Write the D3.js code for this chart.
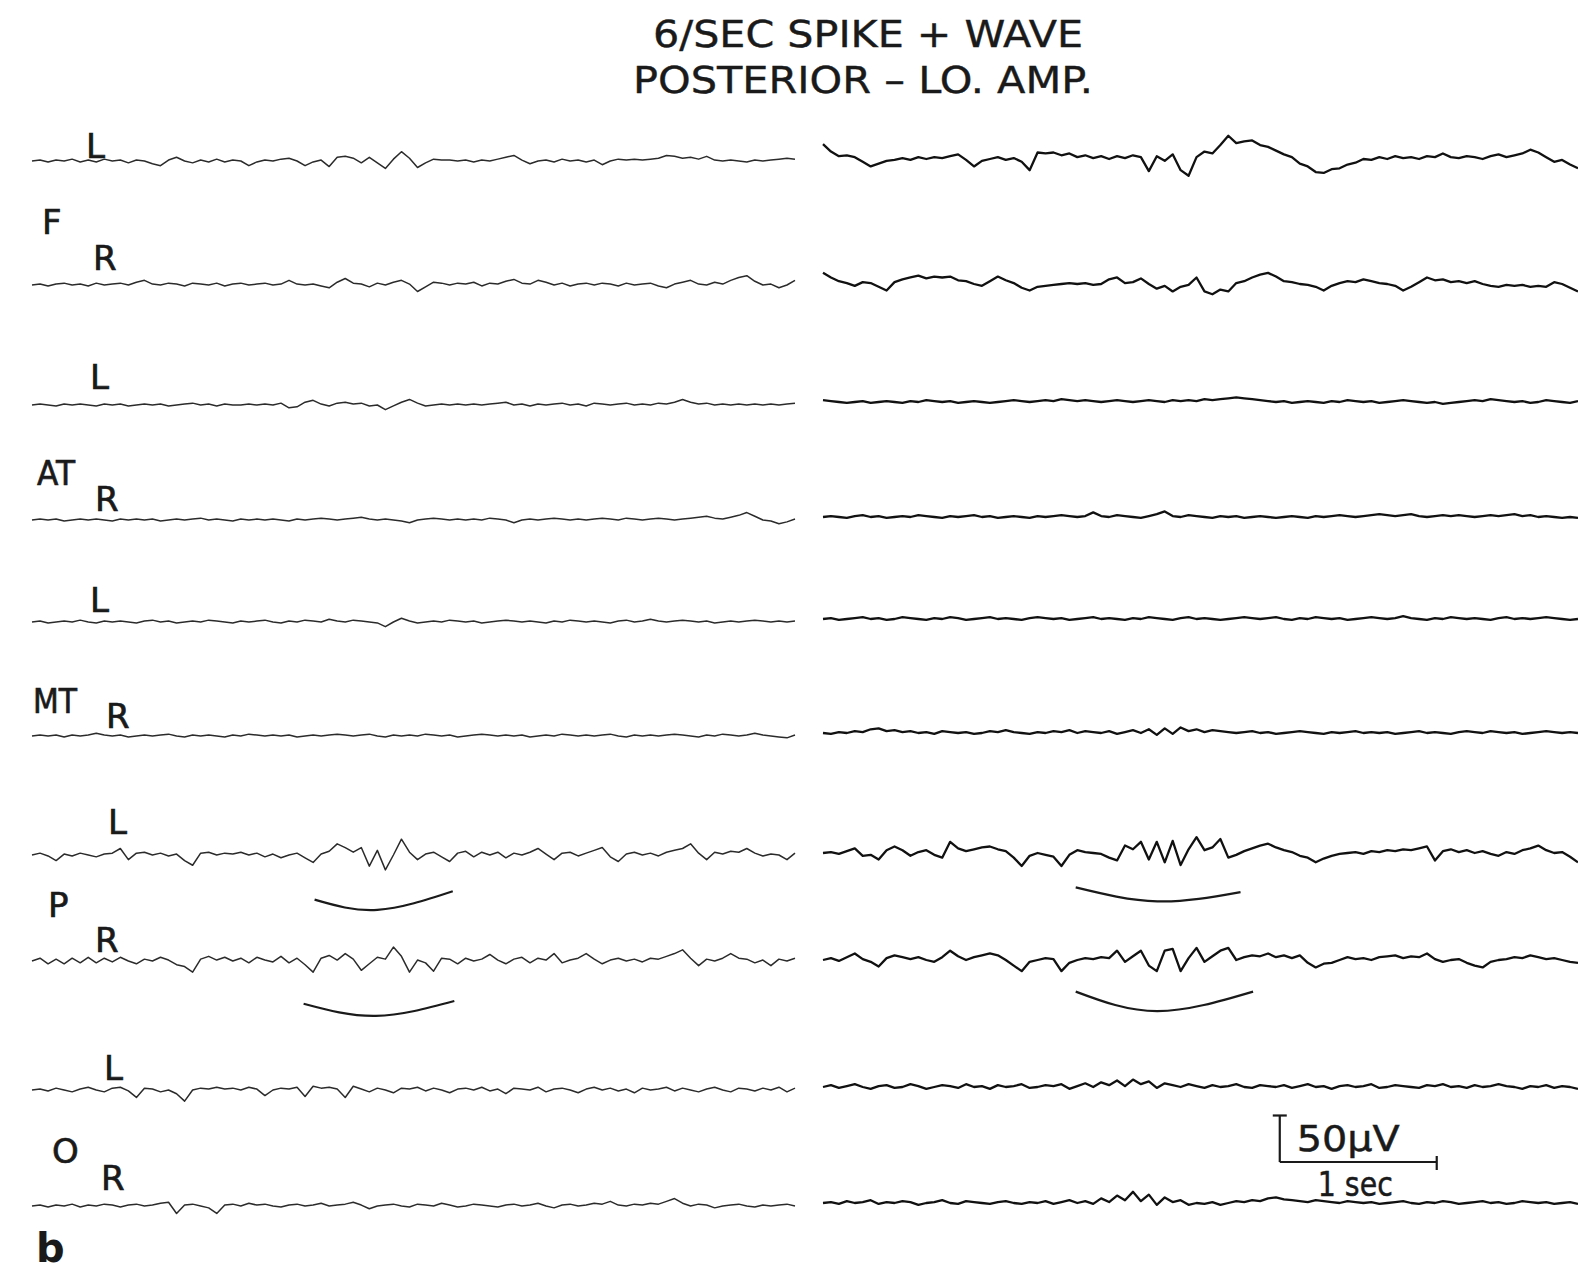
<!DOCTYPE html>
<html><head><meta charset="utf-8">
<script src="https://cdn.jsdelivr.net/npm/d3@7"></script>
<style>body{margin:0;background:#fff}svg{display:block}</style>
</head><body>
<svg id="c" width="1578" height="1271"></svg>
<script>
// ---------------- DATA ----------------
const titleLines = ["6/SEC SPIKE + WAVE", "POSTERIOR – LO. AMP."];
const regions = ["F", "AT", "MT", "P", "O"];
const sides = ["L", "R"];
const panelLabel = "b";
const scaleBarUV = 50, scaleBarSec = 1;
const scaleBarTexts = ["50\u00B5V", "1 sec"];
const panelDurSec = [4.86, 4.81];

// left panel (amplitudes in µV, sampled evenly across the panel)
const leftFL = [0,1,-1,1,0,2,-1,1,-1,2,0,1,-2,1,0,-3,-5,1,4,0,-2,1,-1,2,-1,1,0,-5,-1,1,0,2,3,0,-5,-1,1,-6,4,5,3,-2,4,-2,-8,2,10,3,-7,-2,2,1,1,0,1,-1,1,0,2,4,6,1,-3,0,1,-1,2,0,1,-1,1,-4,0,2,1,2,1,2,3,6,5,3,4,2,5,1,0,1,0,-1,1,0,1,2,3,2];
const leftFR = [0,1,-1,1,2,0,1,-1,2,0,1,2,0,3,5,1,0,2,1,-1,2,1,0,2,-1,1,2,0,1,2,0,1,5,1,0,1,-1,-3,3,7,2,1,-2,2,0,3,5,1,-7,-2,3,2,0,2,1,3,-1,2,1,4,6,2,1,5,3,0,2,-1,1,2,0,2,1,-1,2,0,1,2,-1,-3,1,3,5,1,0,3,1,5,8,10,4,0,1,-3,0,5];
const leftATL = [0,1,0,-1,1,0,1,0,-1,1,0,1,-1,0,1,0,1,-1,0,1,2,0,1,-1,1,0,0,1,0,1,0,2,-3,-2,3,5,1,-1,2,3,1,2,-1,0,-5,-1,3,6,2,-1,0,1,0,1,0,1,0,1,2,3,0,1,-1,1,0,1,2,0,1,-1,2,1,0,1,2,0,1,0,2,1,3,6,3,1,2,0,1,0,1,0,1,0,1,0,1,2];
const leftATR = [0,1,0,1,-1,0,1,0,1,0,-1,1,0,1,0,1,-1,0,1,0,1,2,0,1,0,-1,1,0,1,0,1,0,-1,1,0,1,2,1,0,1,2,3,1,0,1,0,-1,-3,0,1,2,1,0,1,0,1,0,2,1,0,-3,0,1,0,1,2,1,0,1,0,1,2,1,0,2,1,0,1,2,1,0,1,2,3,4,2,1,3,5,8,4,0,-1,-4,-2,1];
const leftMTL = [0,1,-1,0,1,0,2,0,-1,1,0,1,0,-1,1,2,0,1,-1,0,1,0,2,1,0,-1,1,0,1,2,0,-1,1,0,2,1,0,3,1,0,2,1,0,-1,-5,0,4,1,-1,0,1,0,2,1,0,1,-1,0,1,2,1,0,1,0,-1,1,0,2,1,0,1,0,-1,1,2,0,1,3,1,0,1,2,1,0,1,-1,0,1,0,1,2,1,0,1,0,1];
const leftMTR = [0,1,0,1,-1,1,0,1,3,1,0,1,-1,0,1,0,1,2,0,-1,1,0,1,0,-1,1,0,2,1,0,1,0,1,-1,0,1,0,1,2,1,0,1,2,0,-1,1,0,1,0,2,1,0,1,-1,0,1,2,1,0,1,0,1,-1,0,1,0,2,1,0,1,0,1,2,0,-1,1,0,1,0,1,2,1,0,-1,1,0,2,1,0,1,3,1,0,-1,-2,1];
const leftPL = [0,2,-1,-6,1,-1,2,0,-2,1,2,7,-5,2,3,0,2,-1,1,-6,-11,2,3,0,2,1,3,0,2,-2,1,-3,0,2,-3,-8,1,4,12,8,3,8,-12,5,-16,0,17,3,-5,1,3,-2,-7,2,4,-2,3,0,3,-3,2,0,3,7,1,-5,2,3,-1,2,5,8,-2,-7,1,3,0,2,-1,3,5,7,12,2,-5,3,1,4,3,7,2,-1,1,0,-5,2];
const leftPR = [0,3,-3,2,-3,3,-2,4,-2,3,-1,4,0,-3,2,0,4,1,-4,-6,-12,2,5,1,4,0,3,-2,4,1,-1,5,-2,3,-4,-12,3,6,1,8,2,-10,-3,4,2,15,5,-12,1,-2,-11,3,2,-3,3,0,2,7,1,-3,2,4,-2,3,1,8,-2,1,3,8,2,-3,1,3,0,2,-1,3,2,5,8,12,3,-5,2,0,3,8,3,2,-2,1,-5,2,0,3];
const leftOL = [0,1,-1,2,0,-2,1,3,0,-2,2,3,-1,-8,2,1,-2,0,-4,-12,0,2,1,3,1,2,0,3,1,-6,0,2,1,3,-7,4,2,3,1,-8,4,1,-2,2,0,-3,2,1,3,-1,2,0,-3,1,2,0,3,-1,1,-4,2,1,0,3,-2,1,2,0,-3,1,3,0,2,-1,1,-3,2,0,1,3,-1,2,0,-2,1,3,0,-2,2,1,-1,2,0,3,-2,2];
const leftOR = [0,1,-1,1,0,2,-1,1,0,2,1,-1,1,2,0,1,3,4,-8,1,2,0,-2,-8,1,2,0,3,1,2,0,-1,1,2,0,1,3,0,1,2,4,1,-3,0,1,2,0,-1,2,1,0,3,1,-1,0,2,1,0,-1,1,2,0,1,3,0,-2,1,2,0,1,3,2,5,1,0,2,1,3,2,5,8,3,0,2,1,-2,0,1,2,0,-1,1,0,1,2,0];

// right panel
const rightFL = [16,8,3,4,2,-3,-8,-5,-2,-1,1,-1,2,0,2,1,3,5,-1,-8,-2,0,2,-1,1,-3,-12,7,6,7,4,6,2,4,1,3,0,3,1,4,2,-13,3,-2,5,-12,-18,2,8,6,15,25,17,19,20,15,13,9,5,2,-5,-8,-14,-15,-11,-10,-6,-4,0,-1,2,0,3,1,2,0,3,2,6,2,1,3,2,0,3,5,2,4,6,10,7,2,-3,-1,-6,-10];
const rightFR = [12,7,3,1,-2,2,1,-3,-7,2,5,7,9,6,8,7,8,4,3,0,-2,3,8,4,1,-4,-7,-3,-2,-1,0,1,0,1,-1,0,5,7,1,2,6,0,-5,-2,-8,-3,-1,7,-8,-11,-6,-8,1,3,7,10,12,8,3,2,0,-1,-3,-7,-2,1,3,2,5,3,1,0,-2,-7,-3,2,7,4,5,2,3,1,3,0,-2,-3,-1,-2,-1,-3,-2,-3,2,0,-4,-8];
const rightATL = [2,1,0,-1,0,1,-1,0,1,0,-1,1,0,2,1,0,1,-1,0,1,0,-1,0,1,2,1,0,1,2,1,3,2,1,2,1,0,1,2,1,0,1,2,1,0,2,1,2,1,3,2,3,4,5,4,3,2,1,0,1,-1,0,1,0,-1,1,0,2,1,0,1,-1,0,1,2,1,0,-1,0,-2,-1,0,1,2,1,3,2,1,0,1,-1,0,2,1,0,-1,1];
const rightATR = [0,1,0,-1,1,2,0,1,-1,0,1,0,2,1,0,-1,1,0,1,2,0,1,-1,0,1,0,-1,1,0,1,2,1,0,1,5,1,0,2,1,0,-1,1,3,6,1,0,2,1,0,-1,1,0,1,-1,0,1,0,-1,0,1,0,-1,1,0,1,2,1,0,1,2,3,2,1,2,3,1,0,1,2,1,2,1,0,1,2,1,2,3,1,2,0,1,0,-1,0,-1];
const rightMTL = [0,1,-1,0,1,2,0,1,-1,0,2,1,0,-1,1,0,2,1,-1,0,1,2,0,1,0,-1,1,2,1,0,1,-1,0,1,2,0,1,0,-1,1,0,2,1,0,-1,1,2,0,1,0,-1,0,1,2,1,0,1,2,0,-1,1,0,2,1,0,1,-1,0,1,2,1,0,1,3,1,0,-1,1,0,2,1,0,1,0,-1,1,2,0,1,0,1,2,1,0,-1,0];
const rightMTR = [0,-1,1,0,2,1,4,5,2,3,1,2,0,1,-1,2,1,0,1,-1,0,2,1,3,1,0,-1,1,0,2,1,3,0,2,1,0,2,-1,1,3,0,4,-2,5,-1,6,2,4,1,3,2,1,0,1,2,0,1,-1,0,1,2,1,0,-1,1,0,1,2,0,1,0,1,-1,0,1,2,0,1,0,-1,1,2,1,0,2,1,0,1,-1,0,1,2,1,0,1,0];
const rightPL = [0,1,-1,2,5,-3,-2,-7,3,7,3,-3,1,3,-2,-5,12,5,2,4,6,7,4,2,-5,-14,-3,0,-2,-4,-14,-2,3,1,0,-1,-5,-8,8,4,12,-7,12,-10,13,-13,4,17,3,6,15,-5,-2,2,5,8,10,6,3,1,-3,-5,-10,-6,-3,-1,0,1,-1,2,1,3,2,4,3,5,7,-8,2,4,1,3,0,2,-1,-3,1,-1,3,5,8,3,0,1,-4,-10];
const rightPR = [0,2,-1,3,7,1,-2,-7,2,5,3,1,3,0,-2,3,10,4,0,3,5,7,5,0,-6,-12,-2,0,2,1,-12,-3,0,2,1,3,2,10,-2,4,10,-6,-12,10,12,-12,2,13,-2,4,10,13,0,3,5,4,7,3,5,2,5,-3,-8,-4,-3,0,3,1,2,0,3,4,5,2,4,3,7,1,-2,0,1,-3,-6,-8,-2,0,1,3,2,5,3,1,2,0,-2,-3];
const rightOL = [0,2,-1,1,3,0,-2,1,2,-1,0,3,1,-2,0,2,1,-1,3,0,1,-2,2,0,1,3,-1,0,2,1,3,-2,1,4,0,5,2,7,1,8,3,6,-1,4,2,0,3,1,-1,2,0,1,3,0,-1,2,1,0,2,-1,1,3,0,1,-2,1,2,0,1,3,-1,0,2,1,0,-1,2,1,3,0,1,-1,2,0,1,3,1,0,-2,1,0,2,-1,1,0,-2];
const rightOR = [0,1,-1,2,0,1,3,-1,1,0,2,1,-2,0,1,3,0,-1,2,1,0,-1,1,2,0,-1,1,0,2,-1,1,3,0,2,-1,5,1,8,3,12,2,9,-2,6,1,3,-2,0,-1,1,-2,0,2,1,3,2,5,6,4,3,2,1,3,2,1,0,2,1,0,1,-1,0,1,2,0,-1,1,0,2,1,-1,0,1,2,0,1,-1,0,2,1,0,1,-1,0,1,-1];

const leftTraces = [leftFL, leftFR, leftATL, leftATR, leftMTL, leftMTR, leftPL, leftPR, leftOL, leftOR];
const rightTraces = [rightFL, rightFR, rightATL, rightATR, rightMTL, rightMTR, rightPL, rightPR, rightOL, rightOR];

// under-brackets marking the spike-wave bursts: panel, channel, [sec, µV] points
const arcs = [
  {panel: 0, ch: 6, pts: [[1.80, -48], [2.20, -59], [2.68, -39]]},
  {panel: 0, ch: 7, pts: [[1.73, -46], [2.19, -59], [2.69, -43]]},
  {panel: 1, ch: 6, pts: [[1.61, -37], [2.13, -52], [2.66, -42]]},
  {panel: 1, ch: 7, pts: [[1.61, -34], [2.13, -55], [2.74, -34]]}
];

// ---------------- LAYOUT ----------------
const svg = d3.select("#c");
const baseLeft = [161, 285, 405, 520, 622, 736, 855, 961, 1090, 1206];
const baseRight = [159, 284, 402, 517, 619, 733, 853, 960, 1087, 1203];
const panelX = [[32, 795], [823, 1578]];
const uvPx = 46.5 / 50;   // px per µV from the calibration bar
const ink = "#1a1a1a";
const font = "'DejaVu Sans', 'Liberation Sans', sans-serif";

const xScales = panelX.map((r, k) => d3.scaleLinear().domain([0, panelDurSec[k]]).range(r));
const yOff = d3.scaleLinear().domain([-50, 50]).range([50 * uvPx, -50 * uvPx]);

function drawTraces(traces, k, bases, sw, color) {
  const xs = xScales[k];
  traces.forEach((vals, c) => {
    const n = vals.length;
    const line = d3.line()
      .x((d, i) => xs(i / (n - 1) * panelDurSec[k]))
      .y(d => bases[c] + yOff(d))
      .curve(d3.curveLinear);
    svg.append("path").datum(vals).attr("d", line)
      .attr("fill", "none").attr("stroke", color)
      .attr("stroke-width", sw).attr("stroke-linejoin", "round");
  });
}
drawTraces(leftTraces, 0, baseLeft, 1.5, "#2b2b2b");
drawTraces(rightTraces, 1, baseRight, 2.3, "#111");

// arcs
arcs.forEach(a => {
  const bases = a.panel === 0 ? baseLeft : baseRight;
  const xs = xScales[a.panel];
  const line = d3.line().x(d => xs(d[0])).y(d => bases[a.ch] + yOff(d[1])).curve(d3.curveNatural);
  svg.append("path").datum(a.pts).attr("d", line)
    .attr("fill", "none").attr("stroke", ink).attr("stroke-width", 2.2);
});

// title
const tLayout = [{x: 653, y: 47, w: 430}, {x: 633, y: 93, w: 460}];
titleLines.forEach((t, i) => {
  svg.append("text").attr("x", tLayout[i].x).attr("y", tLayout[i].y)
    .attr("textLength", tLayout[i].w).attr("lengthAdjust", "spacingAndGlyphs")
    .attr("font-family", font).attr("font-size", 38).attr("fill", ink)
    .attr("stroke", ink).attr("stroke-width", 0.4).text(t);
});

// channel labels
function label(txt, x, y, len) {
  const t = svg.append("text").attr("x", x).attr("y", y).attr("font-family", font)
    .attr("font-size", 34).attr("fill", ink).attr("stroke", ink).attr("stroke-width", 0.7).text(txt);
  if (len) t.attr("textLength", len).attr("lengthAdjust", "spacingAndGlyphs");
}
const sideLabelPos = [[86,158],[93,270],[90,389],[95,511],[90,612],[106,728],[108,834],[95,952],[104,1080],[101,1190]];
const regionLabelPos = [[42,234],[37,485],[33,713],[48,917],[52,1163]];
const regionLen = [null, 38, 44, null, null];
sideLabelPos.forEach((p, c) => label(sides[c % 2], p[0], p[1], null));
regions.forEach((r, i) => label(r, regionLabelPos[i][0], regionLabelPos[i][1], regionLen[i]));
svg.append("text").attr("x", 36).attr("y", 1262).attr("font-family", font)
  .attr("font-weight", "bold").attr("font-size", 40).attr("fill", ink).text(panelLabel);

// calibration bar
const sbT0 = 2.91;
const sbX0 = xScales[1](sbT0), sbX1 = xScales[1](sbT0 + scaleBarSec);
const sbY = 1162, sbTop = sbY - scaleBarUV * uvPx;
const g = svg.append("g").attr("stroke", ink).attr("stroke-width", 2.2).attr("fill", "none");
g.append("line").attr("x1", sbX0).attr("x2", sbX0).attr("y1", sbTop).attr("y2", sbY);
g.append("line").attr("x1", sbX0 - 7).attr("x2", sbX0 + 7).attr("y1", sbTop).attr("y2", sbTop);
g.append("line").attr("x1", sbX0).attr("x2", sbX1).attr("y1", sbY).attr("y2", sbY);
g.append("line").attr("x1", sbX1).attr("x2", sbX1).attr("y1", sbY - 6).attr("y2", sbY + 8);
svg.append("text").attr("x", sbX0 + 17).attr("y", 1151).attr("textLength", 103)
  .attr("lengthAdjust", "spacingAndGlyphs").attr("font-family", font).attr("font-size", 36)
  .attr("fill", ink).attr("stroke", ink).attr("stroke-width", 0.5).text(scaleBarTexts[0]);
svg.append("text").attr("x", sbX0 + 38).attr("y", 1196).attr("textLength", 75)
  .attr("lengthAdjust", "spacingAndGlyphs").attr("font-family", font).attr("font-size", 34)
  .attr("fill", ink).attr("stroke", ink).attr("stroke-width", 0.5).text(scaleBarTexts[1]);
</script>
</body></html>
